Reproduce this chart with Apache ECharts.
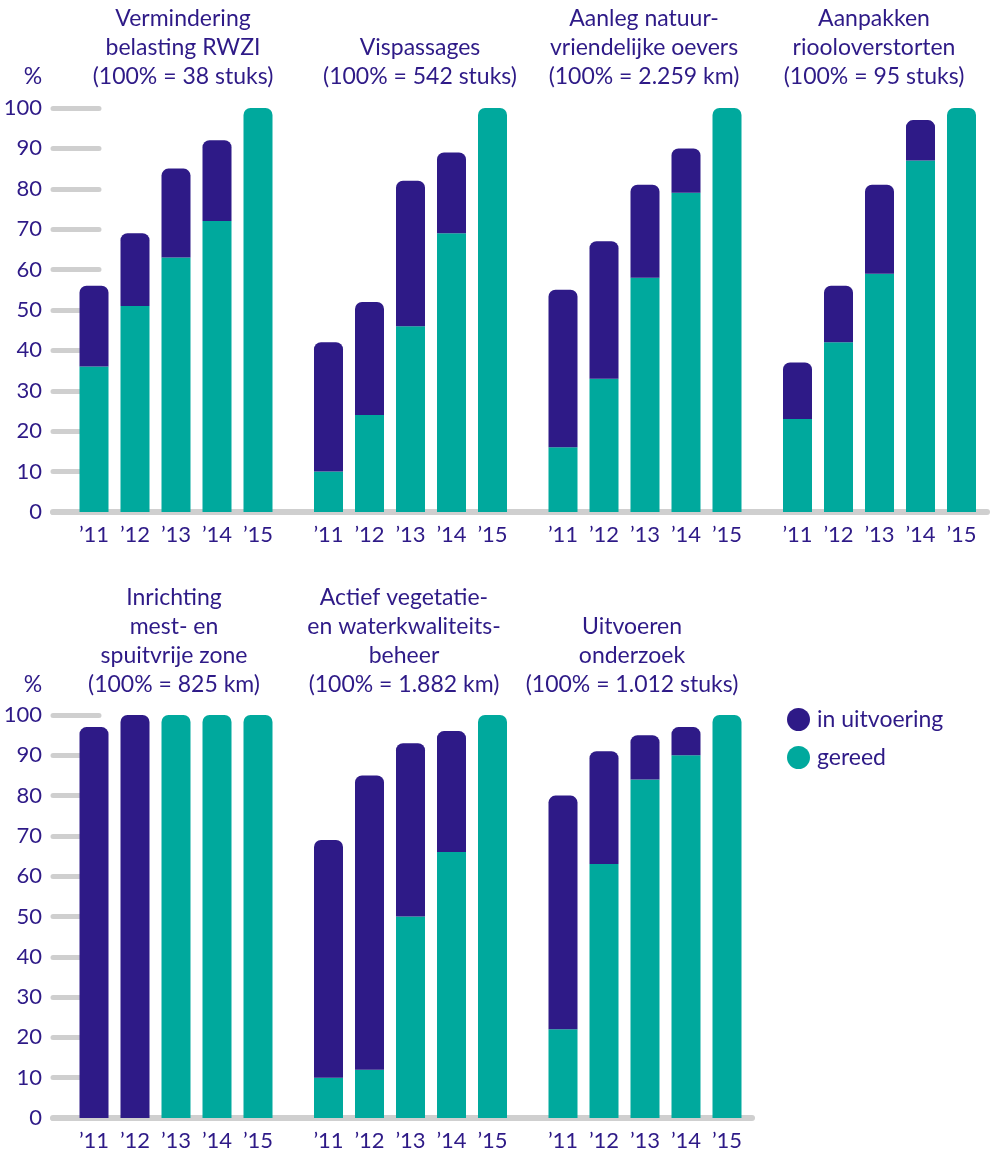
<!DOCTYPE html>
<html>
<head>
<meta charset="utf-8">
<script src="https://cdn.jsdelivr.net/npm/echarts@6/dist/echarts.min.js"></script>
<style>
	html, body { margin: 0; padding: 0; background: #fff; }
	#chart { width: 993px; height: 1153px; }
</style>
</head>
<body>
<div id="chart"></div>
<script>
// jaren
var categories = ['\u201911', '\u201912', '\u201913', '\u201914', '\u201915'];
var yTicks = [0, 10, 20, 30, 40, 50, 60, 70, 80, 90, 100];

// titels per paneel
var titles = [
	'Vermindering\nbelasting RWZI\n(100% = 38 stuks)',
	'Vispassages\n(100% = 542 stuks)',
	'Aanleg natuur-\nvriendelijke oevers\n(100% = 2.259 km)',
	'Aanpakken\nriooloverstorten\n(100% = 95 stuks)',
	'Inrichting\nmest- en\nspuitvrije zone\n(100% = 825 km)',
	'Actief vegetatie-\nen waterkwaliteits-\nbeheer\n(100% = 1.882 km)',
	'Uitvoeren\nonderzoek\n(100% = 1.012 stuks)'
];

// gereed / in uitvoering (%)
var gereedRwzi = [36, 51, 63, 72, 100];
var uitvoeringRwzi = [20, 18, 22, 20, 0];
var gereedVis = [10, 24, 46, 69, 100];
var uitvoeringVis = [32, 28, 36, 20, 0];
var gereedOevers = [16, 33, 58, 79, 100];
var uitvoeringOevers = [39, 34, 23, 11, 0];
var gereedRiool = [23, 42, 59, 87, 100];
var uitvoeringRiool = [14, 14, 22, 10, 0];
var gereedZone = [0, 0, 100, 100, 100];
var uitvoeringZone = [97, 100, 0, 0, 0];
var gereedBeheer = [10, 12, 50, 66, 100];
var uitvoeringBeheer = [59, 73, 43, 30, 0];
var gereedOnderzoek = [22, 63, 84, 90, 100];
var uitvoeringOnderzoek = [58, 28, 11, 7, 0];

var gereed = [gereedRwzi, gereedVis, gereedOevers, gereedRiool, gereedZone, gereedBeheer, gereedOnderzoek];
var uitvoering = [uitvoeringRwzi, uitvoeringVis, uitvoeringOevers, uitvoeringRiool, uitvoeringZone, uitvoeringBeheer, uitvoeringOnderzoek];

var PURPLE = '#2e1a87';
var TEAL = '#00a99d';
var GREY = '#cfcfcf';
var FONT = 'Lato';

var rows = [{ top: 108, height: 404 }, { top: 715, height: 403 }];
var titleX = [183, 420, 644, 874, 174, 404, 632];

var grids = [], xAxes = [], yAxes = [], series = [], graphics = [];

// panelen
for (var i = 0; i < 7; i++) {
	var row = i < 4 ? rows[0] : rows[1];
	var col = i < 4 ? i : i - 4;
	grids.push({ left: 73.5 + 234.5 * col, width: 205, top: row.top, height: row.height });
	xAxes.push({
		type: 'category', gridIndex: i, data: categories,
		axisLine: { show: false }, axisTick: { show: false },
		axisLabel: { color: PURPLE, fontSize: 22, fontFamily: FONT, margin: 12 }
	});
	yAxes.push({ type: 'value', gridIndex: i, min: 0, max: 100, show: false });

	var g = gereed[i], u = uitvoering[i];
	series.push({
		name: 'gereed', type: 'bar', stack: 'p' + i, xAxisIndex: i, yAxisIndex: i,
		barWidth: 29, itemStyle: { color: TEAL },
		data: g.map(function (v, k) {
			return { value: v, itemStyle: { borderRadius: u[k] > 0 ? 0 : [7, 7, 0, 0] } };
		})
	});
	series.push({
		name: 'in uitvoering', type: 'bar', stack: 'p' + i, xAxisIndex: i, yAxisIndex: i,
		barWidth: 29, itemStyle: { color: PURPLE, borderRadius: [7, 7, 0, 0] },
		data: u
	});

	graphics.push({
		type: 'text', x: titleX[i], y: i < 4 ? 91 : 699,
		style: {
			text: titles[i], align: 'center', verticalAlign: 'bottom',
			fontSize: 23, lineHeight: 29, fontFamily: FONT, fill: PURPLE
		}
	});
}

// achtergrond-assen met grijze streepjes
var axisRight = [990, 755];
rows.forEach(function (row, r) {
	var gi = grids.length;
	grids.push({ left: 53, width: axisRight[r] - 56, top: row.top, height: row.height });
	xAxes.push({
		type: 'value', gridIndex: gi, min: 0, max: 1,
		axisLine: { show: true, lineStyle: { color: GREY, width: 6, cap: 'round' } },
		axisTick: { show: false }, axisLabel: { show: false }, splitLine: { show: false }
	});
	yAxes.push({
		type: 'value', gridIndex: gi, min: 0, max: 100, interval: 10,
		axisLine: { show: false }, splitLine: { show: false },
		axisTick: { show: true, inside: true, length: 46, lineStyle: { color: GREY, width: 5, cap: 'round' } },
		axisLabel: {
			color: PURPLE, fontSize: 22, fontFamily: FONT, margin: 11,
			formatter: function (v) { return yTicks.indexOf(v) >= 0 ? String(v) : ''; }
		}
	});
	graphics.push({
		type: 'text', x: 33, y: r === 0 ? 91 : 699,
		style: { text: '%', align: 'center', verticalAlign: 'bottom', fontSize: 23, lineHeight: 29, fontFamily: FONT, fill: PURPLE }
	});
});

var myChart = echarts.init(document.getElementById('chart'));
myChart.setOption({
	animation: false,
	grid: grids,
	xAxis: xAxes,
	yAxis: yAxes,
	series: series,
	graphic: graphics,
	legend: {
		data: ['in uitvoering', 'gereed'],
		orient: 'vertical', left: 782, top: 703,
		icon: 'circle', itemWidth: 23, itemHeight: 23, itemGap: 15,
		textStyle: { color: PURPLE, fontSize: 23, fontFamily: FONT, padding: [0, 0, 0, 2] }
	}
});
</script>
</body>
</html>
